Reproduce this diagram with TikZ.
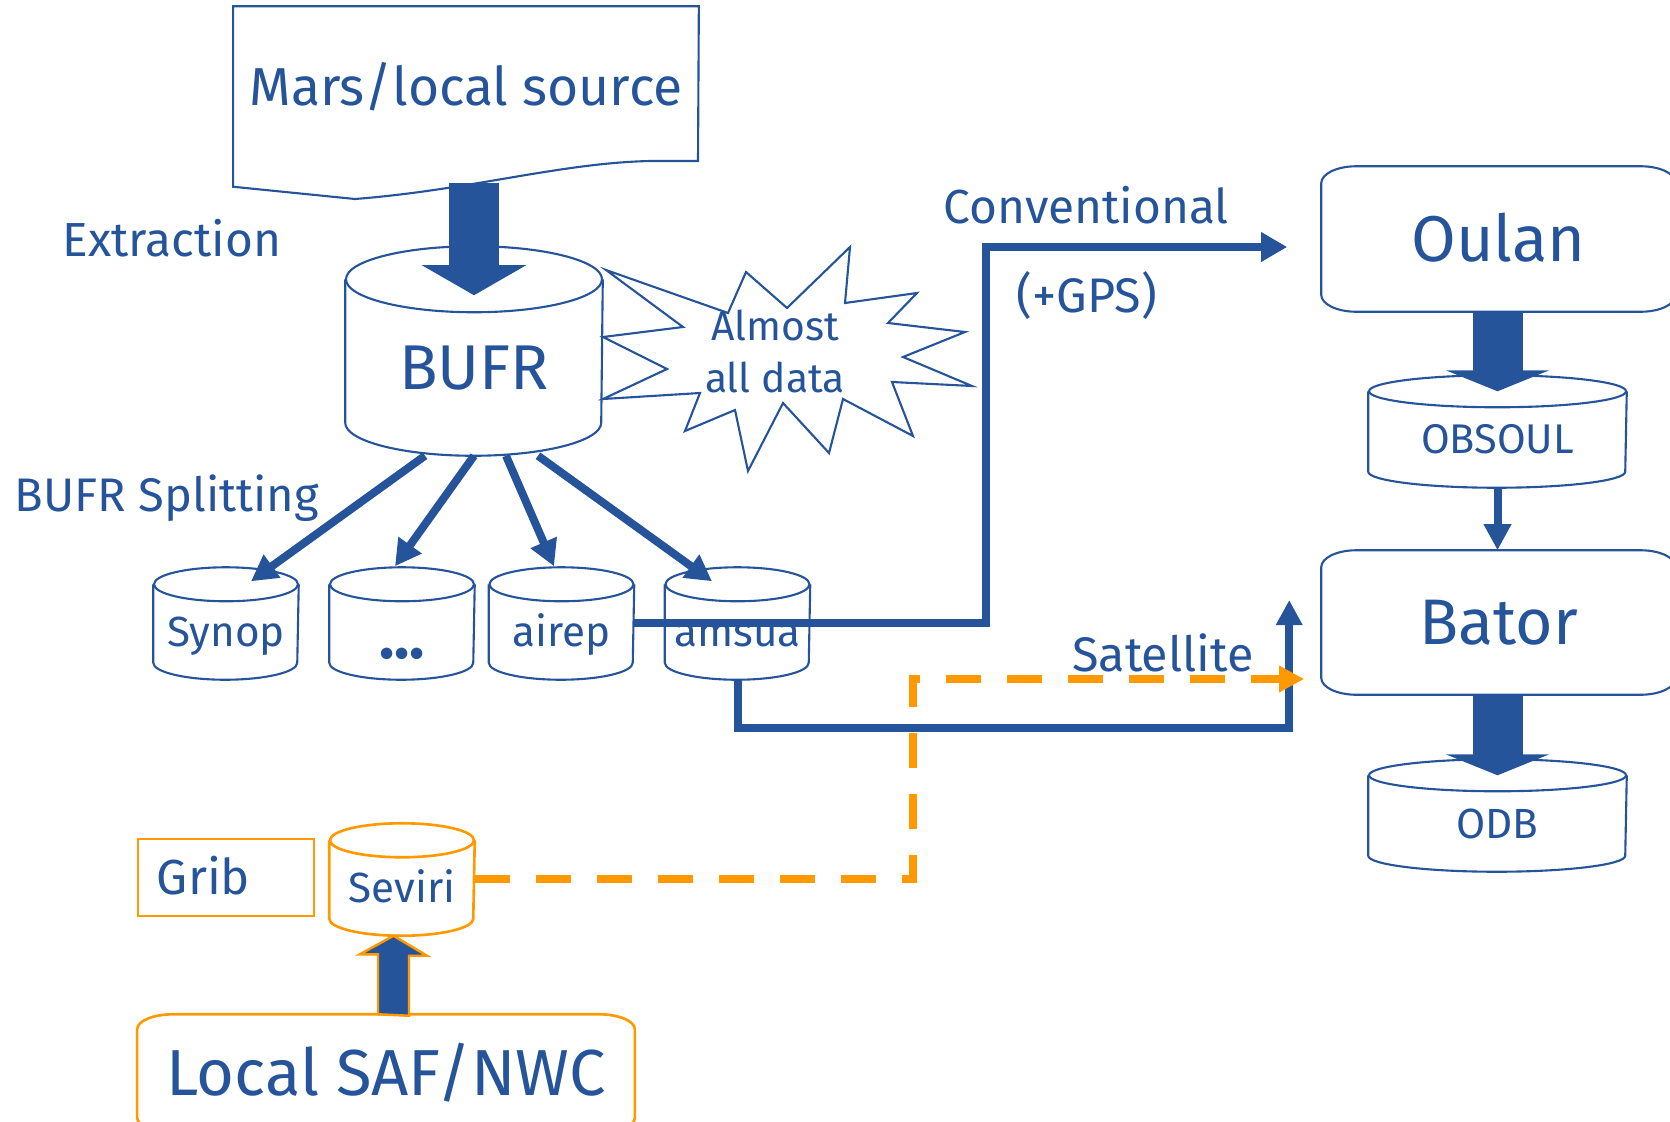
\documentclass[tikz,border=0pt]{standalone}
\usepackage{fontspec}
\setmainfont{Fira Sans}
\usetikzlibrary{arrows.meta,calc}
\definecolor{mfblue}{RGB}{38,84,155}
\definecolor{mforange}{RGB}{255,153,0}

% cylinder outline around a node: top ellipse centred on north, bottom ellipse touching south
\newcommand\drumpath[4]{%
  \draw[#4] (#1.north west) -- ($(#1.south west)+(0,#3)$)
    arc[start angle=180,end angle=360,x radius=#2,y radius=#3] -- (#1.north east);
  \draw[#4] (#1.north) ellipse[x radius=#2,y radius=#3];
}
% box with elliptic corners around a node
\newcommand\softbox[4]{%
  \draw[#4] ($(#1.north west)+(#2,0)$) -- ($(#1.north east)+(-#2,0)$)
    arc[start angle=90,end angle=0,x radius=#2,y radius=#3]
    -- ($(#1.south east)+(0,#3)$)
    arc[start angle=0,end angle=-90,x radius=#2,y radius=#3]
    -- ($(#1.south west)+(#2,0)$)
    arc[start angle=270,end angle=180,x radius=#2,y radius=#3]
    -- ($(#1.north west)+(0,-#3)$)
    arc[start angle=180,end angle=90,x radius=#2,y radius=#3] -- cycle;
}

\tikzset{
  fs/.code={\pgfmathsetmacro\capht{0.689*#1}%
    \pgfkeysalso{font=\fontsize{#1}{#1}\selectfont,text height=\capht pt,text depth=0pt}},
  outl/.style={draw=mfblue,line width=0.6pt},
  outo/.style={draw=mforange,line width=0.75pt},
  conn/.style={draw=mfblue,line width=0.08cm,
    -{Triangle[length=0.26cm,width=0.27cm]}},
  blk/.style={draw=mfblue,line width=0.5cm,
    -{Triangle[length=#1,width=1.03cm]}},
  satdash/.style={draw=mforange,line width=0.08cm,dash pattern=on 0.35cm off 0.26cm,
    -{Triangle[length=0.25cm,width=0.25cm]}},
}

\begin{document}
\begin{tikzpicture}[x=0.01cm,y=0.01cm,every node/.style={inner sep=0pt,text=mfblue}]
\clip (0,-1121) rectangle (1670,0);

% source document
\node[fs=15.2,minimum width=4.64cm,minimum height=1.79cm,text depth=5.4pt] (mars) at (466,-96.5) {Mars/local source};
\draw[outl] (mars.north west) -- (mars.north east) -- (698,-161) -- (650,-161)
  .. controls (560,-163) and (470,-190) .. (355,-199) -- (mars.south west) -- cycle;

% labels
\node[fs=13.6,anchor=west] (extr) at (62,-240) {Extraction};
\node[fs=13.4,anchor=west] (split) at (14,-495) {BUFR Splitting};
\node[fs=13.6,anchor=west] (convl) at (943,-207.5) {Conventional};
\node[fs=13.8,anchor=west] (gps) at (1016,-295.5) {(+GPS)};
\node[fs=13.8] (satl) at (1163,-655) {Satellite};

% BUFR store
\node[fs=18,minimum width=2.56cm,minimum height=1.75cm] (bufr) at (474,-367.5) {BUFR};
\drumpath{bufr}{128}{33}{outl}

% burst callout
\draw[outl,line join=miter] (606,-270) -- (728,-313) -- (746,-272) -- (787,-308) -- (850,-247)
  -- (845,-303) -- (917,-293) -- (888,-323) -- (965,-332) -- (903,-357) -- (972,-386)
  -- (892,-382) -- (913,-436) -- (843,-399) -- (829,-453) -- (783,-403) -- (748,-471)
  -- (735,-410) -- (685,-431) -- (700,-393) -- (603,-399) -- (667,-369) -- (603,-337)
  -- (683,-327) -- cycle;
\node[align=center,font=\fontsize{11.6}{14.8}\selectfont] (almost) at (775,-351) {Almost\\all data};

% split stores
\foreach \nm/\cx/\tx in {synop/226/Synop, airep/561.5/airep, amsua/737.5/amsua}{
  \node[fs=12,minimum width=1.44cm,minimum height=0.94cm] (\nm) at (\cx,-632) {\tx};
  \drumpath{\nm}{72}{17}{outl}
}
\node[fs=18,text height=14.8pt,minimum width=1.44cm,minimum height=0.94cm,font=\fontsize{18}{18}\selectfont\bfseries] (dots) at (402,-632) {...};
\drumpath{dots}{72}{17}{outl}

% right-hand chain
\node[fs=18.4,minimum width=3.53cm,minimum height=1.44cm] (oulan) at (1498.5,-239) {Oulan};
\softbox{oulan}{35}{17}{outl}
\node[fs=11.8,minimum width=2.57cm,minimum height=0.95cm] (obsoul) at (1497.5,-439.5) {OBSOUL};
\drumpath{obsoul}{128.5}{16}{outl}
\node[fs=18.3,minimum width=3.53cm,minimum height=1.43cm] (bator) at (1498.5,-622.5) {Bator};
\softbox{bator}{35}{17}{outl}
\node[fs=12,minimum width=2.57cm,minimum height=0.95cm] (odb) at (1497.5,-823.5) {ODB};
\drumpath{odb}{128.5}{16}{outl}

% local satellite products
\node[fs=14,minimum width=1.76cm,minimum height=0.77cm,text width=1.38cm,align=left,
  inner xsep=0.19cm,draw=mforange,line width=0.75pt] (grib) at (226,-877.5) {Grib};
\node[fs=12,minimum width=1.44cm,minimum height=0.94cm] (seviri) at (402,-888) {Seviri};
\drumpath{seviri}{72}{17}{outo}
\node[fs=18.5,minimum width=4.96cm,minimum height=1.17cm] (local) at (386,-1073.5) {Local SAF/NWC};
\softbox{local}{36}{15}{outo}

% block arrows
\draw[blk=0.30cm] ($(mars.south -| bufr.north)+(0,4)$) -- ($(bufr.north)+(0,-16)$);
\draw[blk=0.21cm] (oulan.south -| obsoul.north) -- (obsoul.north);
\draw[blk=0.21cm] (bator.south -| odb.north) -- (odb.north);
\coordinate (upB) at ($(local.north)+(7.5,0)$);
\coordinate (upT) at (seviri.south -| upB);
\draw[fill=mfblue,draw=mforange,line width=0.7pt,line join=miter]
  (upB) ++(-15.5,0) -- ++(0,60) -- ++(-18,0) -- (upT) -- ++(33.5,-20) -- ++(-18,0)
  -- ++(0,-60) -- cycle;

% splitting arrows
\draw[conn] ($(bufr.south)+(-49,0)$) -- ($(synop.north)+(25,3)$);
\draw[conn] (bufr.south) -- ($(dots.north)+(-7,18)$);
\draw[conn] ($(bufr.south)+(32,0)$) -- ($(airep.north)+(-7.5,18)$);
\draw[conn] ($(bufr.south)+(64,0)$) -- ($(amsua.north)+(-25.5,3)$);

% routes to Oulan and Bator
\draw[conn,-{Triangle[length=0.26cm,width=0.28cm]}]
  ($(airep.east)+(0,9)$) -| ($(oulan.west)+(-335,-8)$) -- ($(oulan.west)+(-34,-8)$);
\draw[conn,-{Triangle[length=0.25cm,width=0.25cm]}]
  (amsua.south) |- ($(bator.west)+(-32,-105)$) -- ($(bator.west)+(-32,22.5)$);
\draw[satdash] ($(seviri.east)+(0,9)$) -| ($(bator.west)+(-408,-56.5)$) -- ($(bator.west)+(-17,-56.5)$);
\draw[conn,-{Triangle[length=0.26cm,width=0.26cm]}] (obsoul.south) -- (obsoul.south |- bator.north);
\end{tikzpicture}
\end{document}
